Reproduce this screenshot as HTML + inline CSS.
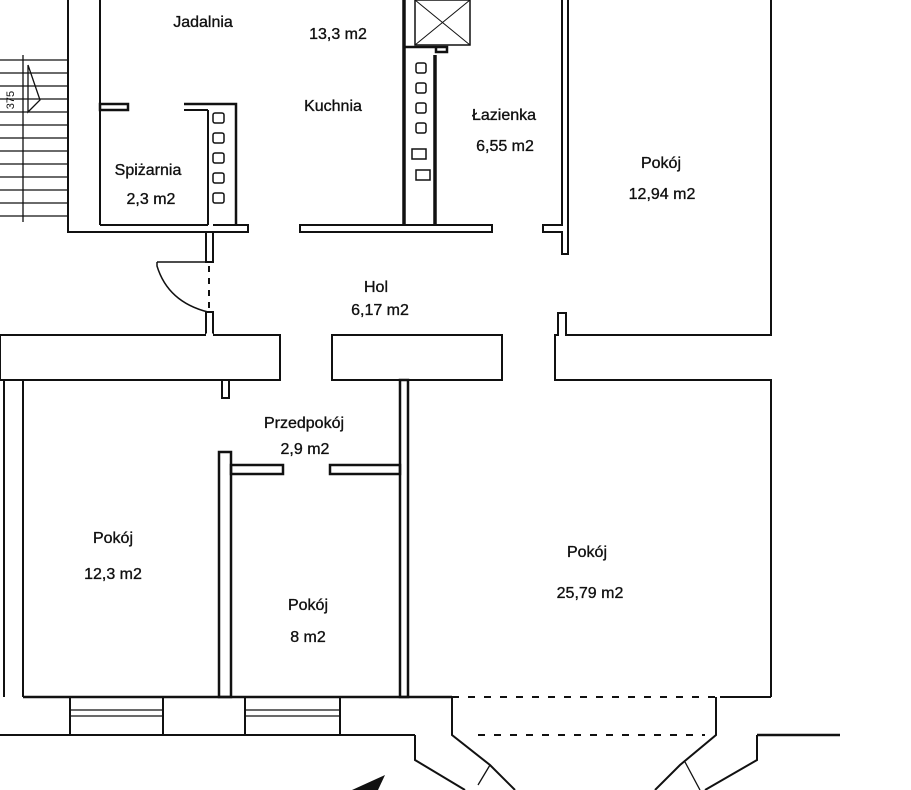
<!DOCTYPE html>
<html><head><meta charset="utf-8"><style>
html,body{margin:0;padding:0;background:#fff}
svg{display:block}
text{font-family:"Liberation Sans",sans-serif;font-size:16px;fill:#111;text-anchor:middle;stroke:#111;stroke-width:0.35}
</style></head><body>
<svg width="911" height="790" viewBox="0 0 911 790" xmlns="http://www.w3.org/2000/svg">
<g fill="none" stroke="#111" stroke-width="2">
<g stroke-width="1.3">
<line x1="0" y1="60" x2="68" y2="60"/><line x1="0" y1="73" x2="68" y2="73"/><line x1="0" y1="86" x2="68" y2="86"/>
<line x1="0" y1="99" x2="68" y2="99"/><line x1="0" y1="112" x2="68" y2="112"/><line x1="0" y1="125" x2="68" y2="125"/>
<line x1="0" y1="138" x2="68" y2="138"/><line x1="0" y1="151" x2="68" y2="151"/><line x1="0" y1="164" x2="68" y2="164"/>
<line x1="0" y1="177" x2="68" y2="177"/><line x1="0" y1="190" x2="68" y2="190"/><line x1="0" y1="203" x2="68" y2="203"/>
<line x1="0" y1="216" x2="68" y2="216"/>
<line x1="23" y1="55" x2="23" y2="222"/>
<polyline points="28,65 40,100 28,112 28,65"/>
</g>
<polyline points="68,0 68,232 248,232 248,225 213,225"/>
<line x1="100" y1="0" x2="100" y2="225"/>
<line x1="100" y1="225" x2="208" y2="225"/>
<rect x="100" y="104" width="28" height="6" stroke-width="2.5"/>
<polyline points="184,104 236,104 236,225" stroke-width="2.5"/>
<line x1="208" y1="110" x2="208" y2="225"/>
<line x1="184" y1="110" x2="208" y2="110"/>
<g stroke-width="1.5">
<rect x="213" y="113" width="11" height="10" rx="2"/><rect x="213" y="133" width="11" height="10" rx="2"/>
<rect x="213" y="153" width="11" height="10" rx="2"/><rect x="213" y="173" width="11" height="10" rx="2"/>
<rect x="213" y="193" width="11" height="10" rx="2"/>
</g>
<polyline points="206,232 206,262 213,262 213,232"/>
<polyline points="206,335 206,312 213,312 213,335"/>
<line x1="209" y1="266" x2="209" y2="308" stroke-dasharray="6,6"/>
<path d="M157,262 L157,266 Q168,302 208,312" stroke-width="1.5"/>
<line x1="157" y1="262" x2="206" y2="262" stroke-width="1.5"/>
<rect x="300" y="225" width="192" height="7"/>
<line x1="404" y1="0" x2="404" y2="225" stroke-width="3.5"/>
<line x1="435" y1="55" x2="435" y2="225" stroke-width="3.5"/>
<polyline points="404,47 436,47 436,52 447,52 447,47 412,47" stroke-width="2.5"/>
<rect x="415" y="0" width="55" height="45" stroke-width="1.5"/>
<line x1="415" y1="0" x2="470" y2="45" stroke-width="1"/><line x1="470" y1="0" x2="415" y2="45" stroke-width="1"/>
<g stroke-width="1.5">
<rect x="416" y="63" width="10" height="10" rx="2"/><rect x="416" y="83" width="10" height="10" rx="2"/>
<rect x="416" y="103" width="10" height="10" rx="2"/><rect x="416" y="123" width="10" height="10" rx="2"/>
<rect x="412" y="149" width="14" height="10"/><rect x="416" y="170" width="14" height="10"/>
</g>
<polyline points="562,0 562,225 543,225 543,232 562,232 562,254 568,254 568,0"/>
<polyline points="771,0 771,335 566,335 566,313 558,313 558,335 555,335 555,380 771,380 771,697"/>
<rect x="0" y="335" width="280" height="45"/>
<line x1="206" y1="335" x2="213" y2="335" stroke="#fff" stroke-width="3"/>
<rect x="332" y="335" width="170" height="45"/>
<line x1="4" y1="380" x2="4" y2="697"/>
<line x1="23" y1="380" x2="23" y2="697"/>
<rect x="222" y="380" width="7" height="18"/>
<rect x="219" y="452" width="12" height="245" stroke-width="2.5"/>
<rect x="231" y="465" width="52" height="9" stroke-width="2.5"/>
<rect x="330" y="465" width="70" height="9" stroke-width="2.5"/>
<rect x="400" y="380" width="8" height="317" stroke-width="2.5"/>
<line x1="23" y1="697" x2="452" y2="697" stroke-width="2.5"/>
<line x1="452" y1="697" x2="720" y2="697" stroke-dasharray="7,9"/>
<line x1="478" y1="735" x2="705" y2="735" stroke-dasharray="7,9"/>
<line x1="720" y1="697" x2="771" y2="697"/>
<line x1="0" y1="735" x2="415" y2="735"/>
<rect x="70" y="697" width="93" height="38"/><line x1="70" y1="710" x2="163" y2="710" stroke-width="1.3"/><line x1="70" y1="716" x2="163" y2="716" stroke-width="1.3"/>
<rect x="245" y="697" width="95" height="38"/><line x1="245" y1="710" x2="340" y2="710" stroke-width="1.3"/><line x1="245" y1="716" x2="340" y2="716" stroke-width="1.3"/>
<polyline points="415,735 415,760 465,790"/>
<polyline points="452,697 452,735 490,765 515,790"/>
<line x1="478" y1="785" x2="490" y2="765" stroke-width="1.3"/>
<polyline points="716,697 716,735 680,765 655,790"/>
<polyline points="757,735 757,760 705,790"/>
<line x1="685" y1="762" x2="700" y2="790" stroke-width="1.3"/>
<line x1="757" y1="735" x2="840" y2="735" stroke-width="2.5"/>
</g>
<polygon points="352,790 385,775 378,790" fill="#111"/>
<text x="203" y="27">Jadalnia</text>
<text x="338" y="39">13,3 m2</text>
<text x="333" y="111">Kuchnia</text>
<text x="504" y="120">Łazienka</text>
<text x="505" y="151">6,55 m2</text>
<text x="661" y="168">Pokój</text>
<text x="662" y="199">12,94 m2</text>
<text x="148" y="175">Spiżarnia</text>
<text x="151" y="204">2,3 m2</text>
<text x="376" y="292">Hol</text>
<text x="380" y="315">6,17 m2</text>
<text x="304" y="428">Przedpokój</text>
<text x="305" y="454">2,9 m2</text>
<text x="113" y="543">Pokój</text>
<text x="113" y="579">12,3 m2</text>
<text x="308" y="610">Pokój</text>
<text x="308" y="642">8 m2</text>
<text x="587" y="557">Pokój</text>
<text x="590" y="598">25,79 m2</text>
<text x="14" y="100" transform="rotate(-90 14 100)" style="font-size:11px;stroke-width:0">375</text>
</svg>
</body></html>
